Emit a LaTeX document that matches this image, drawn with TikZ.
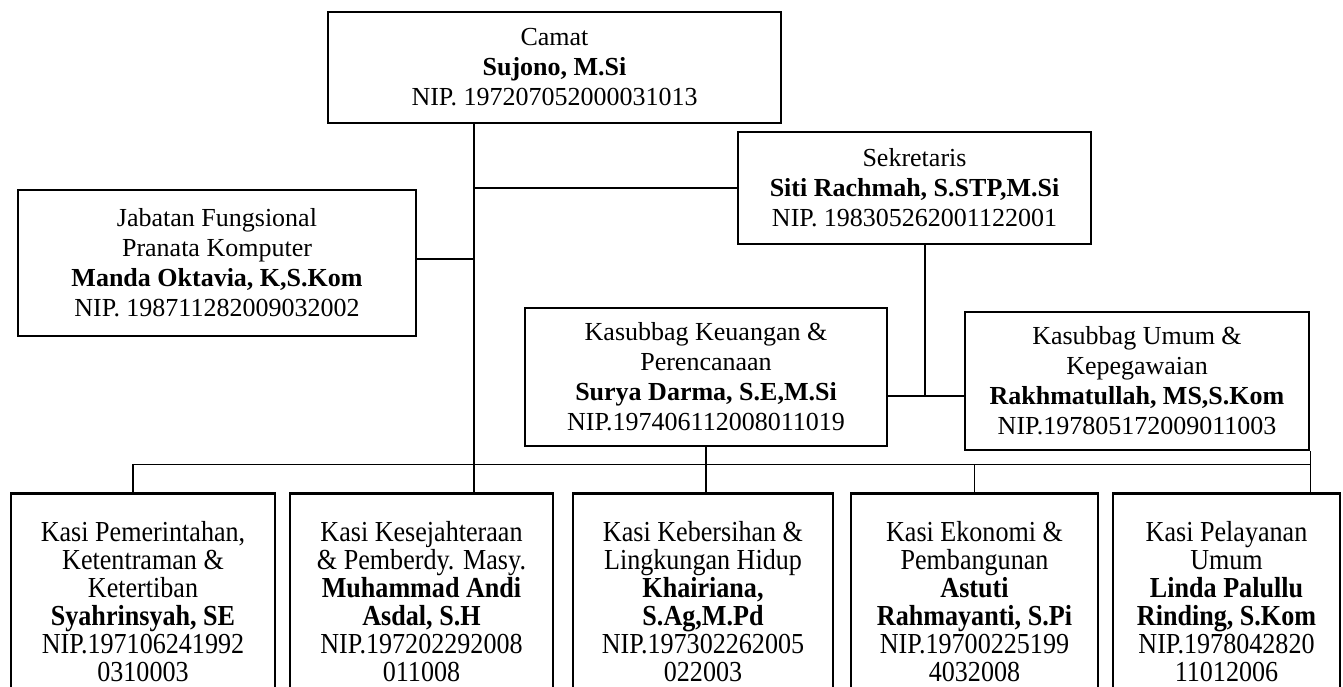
\documentclass[tikz,border=0pt]{standalone}
\usepackage{fontspec}
\setmainfont{Liberation Serif}
\newfontfamily\kasifont{Liberation Serif}[FakeStretch=0.9]
\usepackage{tikz}

\begin{document}
\begin{tikzpicture}[x=1pt,y=-1pt,
  box/.style={draw,line width=2.6pt,inner sep=0pt,align=center,
    font=\fontsize{26}{30}\selectfont},
  kasi/.style={draw,line width=2.6pt,anchor=north,inner xsep=0pt,inner ysep=28pt,
    align=center,font=\kasifont\fontsize{29}{28}\selectfont},
  link/.style={line width=1.1pt}]
  \path[use as bounding box,fill=white] (0,0) rectangle (1343,686);
  \clip (0,0) rectangle (1343,686);
  \node[box,minimum width=453pt,minimum height=111pt] (camat) at (554.5,67.5)
    {Camat\\ \textbf{Sujono, M.Si}\\ NIP. 197207052000031013};
  \node[box,minimum width=353pt,minimum height=112pt] (sekre) at (914.5,188)
    {Sekretaris\\ \textbf{Siti Rachmah, S.STP,M.Si}\\ NIP. 198305262001122001};
  \node[box,minimum width=398pt,minimum height=146pt] (jabfung) at (217,263)
    {Jabatan Fungsional\\ Pranata Komputer\\ \textbf{Manda Oktavia, K,S.Kom}\\ NIP. 198711282009032002};
  \node[box,minimum width=362pt,minimum height=138pt] (keu) at (706,377)
    {Kasubbag Keuangan \&\\ Perencanaan\\ \textbf{Surya Darma, S.E,M.Si}\\ NIP.197406112008011019};
  \node[box,minimum width=344pt,minimum height=138pt] (umum) at (1137,381)
    {Kasubbag Umum \&\\ Kepegawaian\\ \textbf{Rakhmatullah, MS,S.Kom}\\ NIP.197805172009011003};
  \node[kasi,minimum width=264pt] (kpem) at (143,492)
    {Kasi Pemerintahan,\\ Ketentraman \&\\ Ketertiban\\ \textbf{Syahrinsyah, SE}\\ NIP.197106241992\\ 0310003};
  \node[kasi,minimum width=263pt] (kkes) at (421.5,492)
    {Kasi Kesejahteraan\\ \& Pemberdy. Masy.\\ \textbf{Muhammad Andi}\\ \textbf{Asdal, S.H}\\ NIP.197202292008\\ 011008};
  \node[kasi,minimum width=260pt] (kber) at (703,492)
    {Kasi Kebersihan \&\\ Lingkungan Hidup\\ \textbf{Khairiana,}\\ \textbf{S.Ag,M.Pd}\\ NIP.197302262005\\ 022003};
  \node[kasi,minimum width=247pt] (keko) at (974.5,492)
    {Kasi Ekonomi \&\\ Pembangunan\\ \textbf{Astuti}\\ \textbf{Rahmayanti, S.Pi}\\ NIP.19700225199\\ 4032008};
  \node[kasi,minimum width=227pt] (kpel) at (1226.5,492)
    {Kasi Pelayanan\\ Umum\\ \textbf{Linda Palullu}\\ \textbf{Rinding, S.Kom}\\ NIP.1978042820\\ 11012006};
  \coordinate (trunk) at ([xshift=-80.5pt]camat.south);
  \coordinate (sdown) at ([xshift=10.5pt]sekre.south);
  \coordinate (kjoin) at ([yshift=-19pt]keu.east);
  \coordinate (bus) at ([yshift=-17pt]keu.south);
  \draw[link] (trunk) -- (trunk |- kkes.north);
  \draw[link] (trunk |- sekre.west) -- (sekre.west);
  \draw[link] ([yshift=4pt]jabfung.east) -- ([yshift=4pt]jabfung.east -| trunk);
  \draw[link] (sdown) -- (sdown |- kjoin);
  \draw[link] (kjoin) -- (kjoin -| umum.west);
  \draw[link] (keu.south) -- (keu.south |- kber.north);
  \draw[link] ([xshift=-10pt]kpem.north) |- (bus -| umum.south east);
  \draw[link] (keko.north) -- (keko.north |- bus);
  \draw[link] (umum.south east) -- (umum.south east |- kpel.north);
\end{tikzpicture}
\end{document}
